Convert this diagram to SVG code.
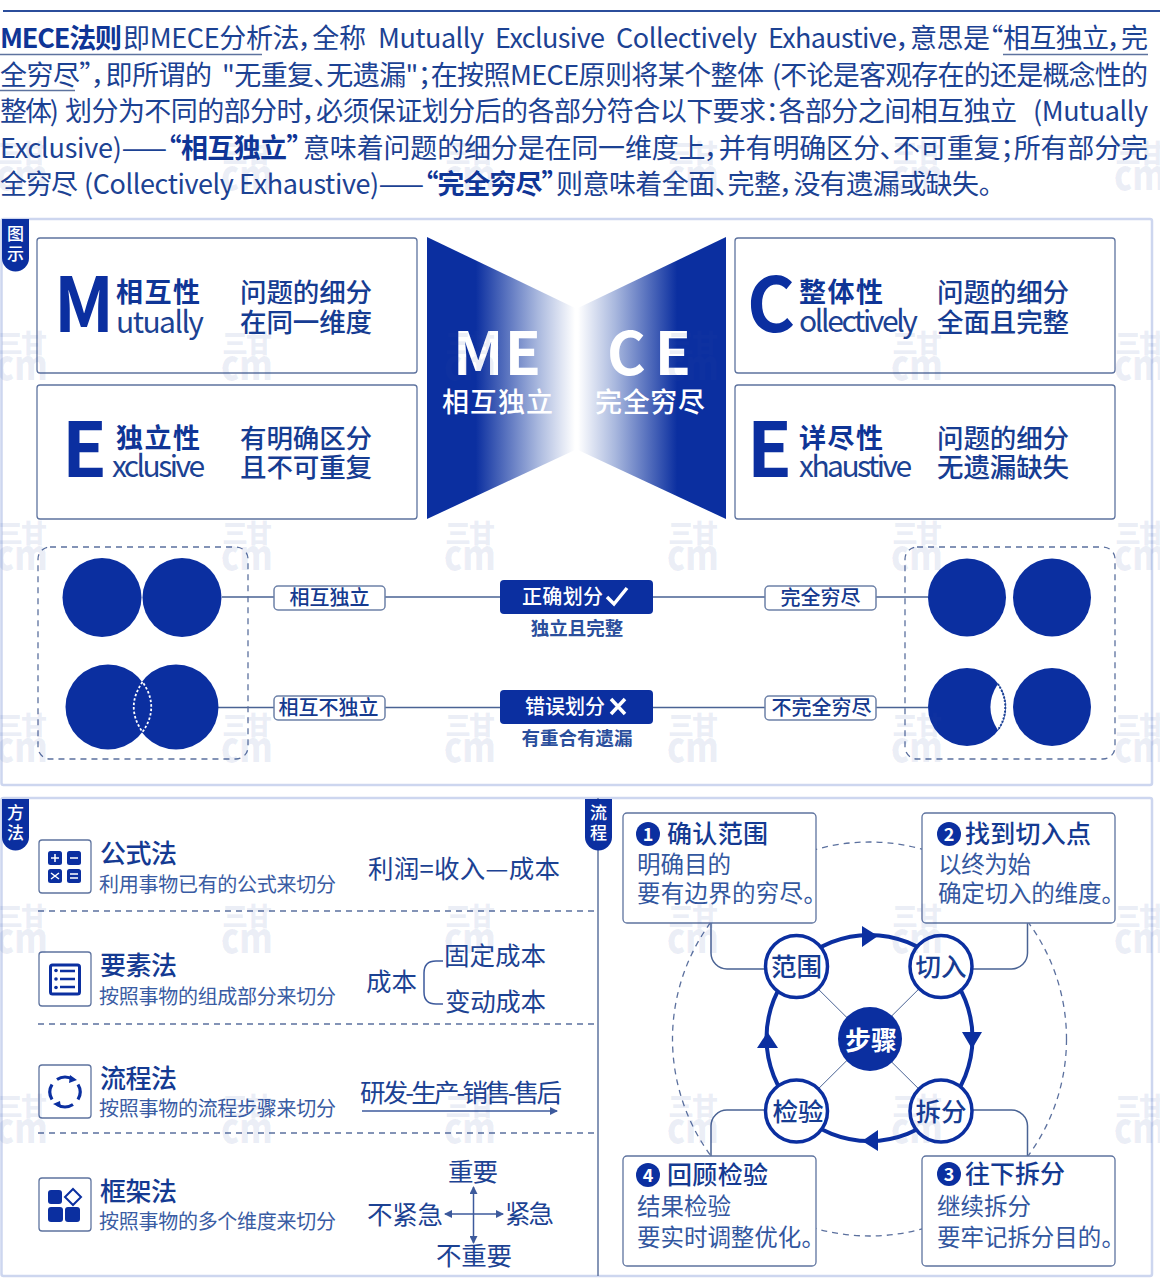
<svg xmlns="http://www.w3.org/2000/svg" xmlns:xlink="http://www.w3.org/1999/xlink" width="1160" height="1286" viewBox="0 0 1160 1286">
<style>
text{font-family:"Noto Sans CJK SC","Noto Sans",sans-serif;fill:#1c4293;font-feature-settings:"palt";}
.b{font-size:27px;font-weight:400}
.bb{font-size:27px;font-weight:700;fill:#0f3596}
.st{font-size:27px;font-weight:700;fill:#0f3596}
.en{font-size:30px;font-weight:400}
.d{font-size:26.5px;font-weight:500;fill:#163c92}
.big{font-size:75px;font-weight:700;fill:#0b2fa0}
.w{fill:#fff}
.lb{font-size:20px;font-weight:500;fill:#153a8f;text-anchor:middle}
.cap{font-size:18.5px;font-weight:700;fill:#2b4f9d;text-anchor:middle}
.tab{font-size:17px;font-weight:500;fill:#fff;text-anchor:middle}
.mt{font-size:26px;font-weight:500;fill:#143a92}
.ms{font-size:20px;font-weight:400;fill:#3a5ca3}
.mr{font-size:25.5px;font-weight:400;fill:#1c4293}
.pt{font-size:25px;font-weight:500;fill:#143a92}
.pb{font-size:23.5px;font-weight:400;fill:#33579f}
.nd{font-size:25.5px;font-weight:500;fill:#163c92;text-anchor:middle}
.num{font-size:18px;font-weight:700;fill:#fff;text-anchor:middle}
.box{fill:#fff;stroke:#5e739f;stroke-width:1.3}
.panel{fill:none;stroke:#cdd6ef;stroke-width:2.5}
.lab{fill:#fff;stroke:#6d81a8;stroke-width:1.5}
.blue{fill:#0b2fa0}
.line{fill:none;stroke:#4a6394;stroke-width:1.5}
.dash{fill:none;stroke:#5b709e;stroke-width:1.3;stroke-dasharray:6 5}
.ico{fill:#fff;stroke:#5e739f;stroke-width:1.3}
.wm{fill:#2c4ca8;fill-opacity:.09;font-weight:900}
</style>
<defs>
<linearGradient id="gl" x1="0" x2="1" y1="0" y2="0"><stop offset="0" stop-color="#0b2fa0"/><stop offset=".33" stop-color="#0b2fa0"/><stop offset=".75" stop-color="#a9b8de"/><stop offset="1" stop-color="#fff"/></linearGradient>
<linearGradient id="gr" x1="1" x2="0" y1="0" y2="0"><stop offset="0" stop-color="#0b2fa0"/><stop offset=".33" stop-color="#0b2fa0"/><stop offset=".75" stop-color="#a9b8de"/><stop offset="1" stop-color="#fff"/></linearGradient>
<marker id="ah" viewBox="0 0 8 8" refX="7" refY="4" markerWidth="8" markerHeight="8" markerUnits="userSpaceOnUse" orient="auto-start-reverse"><path d="M0 0L8 4L0 8Z" fill="#3d5a9c"/></marker>
<g id="logo"><text class="wm" x="0" y="23" font-size="26" textLength="50">三甘</text><text class="wm" x="-1" y="50" font-size="40" textLength="52" lengthAdjust="spacingAndGlyphs">cm</text></g>
</defs>
<rect width="1160" height="1286" fill="#fff"/>
<line x1="3" y1="11" x2="1160" y2="11" stroke="#2b4d9b" stroke-width="2"/>
<g id="intro">
<path d="M0 54.500H262M1003 54.500H1148M0 90.500H75" stroke="#5e739f" stroke-width="1.300" fill="none"/>
<text class="bb" x="0" y="48" textLength="122">MECE法则</text>
<text class="b" x="123" y="48" textLength="243">即MECE分析法，全称</text>
<text class="b" x="378" y="48" textLength="106">Mutually</text>
<text class="b" x="495" y="48" textLength="110">Exclusive</text>
<text class="b" x="616" y="48" textLength="141">Collectively</text>
<text class="b" x="768" y="48" textLength="129">Exhaustive</text>
<text class="b" x="897" y="48" textLength="106">，意思是“</text>
<text class="b" x="1003" y="48" textLength="145">相互独立，完</text>
<text class="b" x="0" y="85" textLength="212">全穷尽”，即所谓的</text>
<text class="b" x="222" y="85" textLength="542">"无重复、无遗漏"；在按照MECE原则将某个整体</text>
<text class="b" x="772" y="85" textLength="376">(不论是客观存在的还是概念性的</text>
<text class="b" x="0" y="121" textLength="59">整体)</text>
<text class="b" x="65" y="121" textLength="952">划分为不同的部分时，必须保证划分后的各部分符合以下要求：各部分之间相互独立</text>
<text class="b" x="1033" y="121" textLength="115">(Mutually</text>
<text class="b" x="0" y="158" textLength="167">Exclusive)——</text>
<text class="bb" x="168" y="158" textLength="132">“相互独立”</text>
<text class="b" x="303" y="158" textLength="845">意味着问题的细分是在同一维度上，并有明确区分、不可重复；所有部分完</text>
<text class="b" x="0" y="194" textLength="78">全穷尽</text>
<text class="b" x="84" y="194" textLength="340">(Collectively Exhaustive)——</text>
<text class="bb" x="425" y="194" textLength="130">“完全穷尽”</text>
<text class="b" x="556" y="194" textLength="436">则意味着全面、完整，没有遗漏或缺失。</text>
</g>
<g id="panel-diagram">
<rect class="panel" x="1.500" y="219" width="1150.500" height="566" rx="2"/>
<path class="blue" d="M2 219H29V258a13.500 13.500 0 0 1-27 0Z"/>
<text class="tab" x="15.500" y="240">图</text><text class="tab" x="15.500" y="260">示</text>
</g>
<g id="node-m"><rect class="box" x="37" y="238" width="380" height="135" rx="3"/>
<text class="big" x="54" y="332" textLength="60" lengthAdjust="spacingAndGlyphs">M</text>
<text class="st" x="116" y="302" textLength="84">相互性</text>
<text class="en" x="116" y="333" textLength="88">utually</text>
<text class="d" x="240" y="302" textLength="132">问题的细分</text>
<text class="d" x="240" y="332" textLength="132">在同一维度</text></g>
<g id="node-e1"><rect class="box" x="37" y="385" width="380" height="134" rx="3"/>
<text class="big" x="62" y="477" textLength="45" lengthAdjust="spacingAndGlyphs">E</text>
<text class="st" x="116" y="448" textLength="84">独立性</text>
<text class="en" x="112" y="477" textLength="93">xclusive</text>
<text class="d" x="240" y="448" textLength="132">有明确区分</text>
<text class="d" x="240" y="477" textLength="132">且不可重复</text></g>
<g id="node-c"><rect class="box" x="735" y="238" width="380" height="135" rx="3"/>
<text class="big" x="747" y="332" textLength="48" lengthAdjust="spacingAndGlyphs">C</text>
<text class="st" x="799" y="302" textLength="84">整体性</text>
<text class="en" x="799" y="332" textLength="119">ollectively</text>
<text class="d" x="937" y="302" textLength="132">问题的细分</text>
<text class="d" x="937" y="332" textLength="132">全面且完整</text></g>
<g id="node-e2"><rect class="box" x="735" y="385" width="380" height="134" rx="3"/>
<text class="big" x="747" y="477" textLength="45" lengthAdjust="spacingAndGlyphs">E</text>
<text class="st" x="799" y="448" textLength="84">详尽性</text>
<text class="en" x="799" y="477" textLength="113">xhaustive</text>
<text class="d" x="937" y="448" textLength="132">问题的细分</text>
<text class="d" x="937" y="477" textLength="132">无遗漏缺失</text></g>
<g id="node-me"><path d="M427 237L575 308V450L427 519Z" fill="url(#gl)"/>
<text x="453" y="375" font-size="59" font-weight="700" class="w" textLength="88">ME</text>
<text x="442" y="412" font-size="27" font-weight="500" class="w" textLength="111">相互独立</text></g>
<g id="node-ce"><path d="M726 237L578 308V450L726 519Z" fill="url(#gr)"/>
<text x="607" y="375" font-size="59" font-weight="700" class="w" textLength="84">CE</text>
<text x="595" y="412" font-size="27" font-weight="500" class="w" textLength="110">完全穷尽</text></g>
<g id="connectors">
<path class="line" d="M222 597H274M385 597H500M653 597H765M876 597H928M218 707.500H274M385 707.500H500M653 707.500H765M876 707.500H928"/>
<path class="line" d="M711 923V953a16 16 0 0 0 16 16H766M1027.500 923V953a16 16 0 0 1-16 16H972M711 1156V1126a16 16 0 0 1 16-16H766M1027.500 1156V1126a16 16 0 0 0-16-16H972"/>
<circle cx="869.500" cy="1039" r="197" class="dash" stroke-width="1"/>
<path d="M796 967L941 1111M941 967L796 1111" stroke="#4a6394" stroke-width="1" fill="none"/>
<circle cx="869.500" cy="1038" r="103" fill="none" stroke="#0b2fa0" stroke-width="4"/>
<path class="blue" d="M862 926L878 936L862 947ZM962 1032H982L972 1049ZM878 1130V1151L862 1141ZM757 1048H778L767.500 1032Z"/>
</g>
<g id="venn-left"><rect class="dash" x="38" y="547" width="210" height="212" rx="12"/>
<circle class="blue" cx="102" cy="597.500" r="39.500"/><circle class="blue" cx="182" cy="597.500" r="39.500"/>
<circle class="blue" cx="108" cy="707" r="42.500"/><circle class="blue" cx="176" cy="707" r="42.500"/>
<path d="M142.500 682Q125 707 142.500 732Q160 707 142.500 682Z" fill="none" stroke="#fff" stroke-width="1.800" stroke-dasharray="2.500 2"/></g>
<g id="venn-right"><rect class="dash" x="905" y="547" width="210" height="212" rx="12"/>
<circle class="blue" cx="967" cy="597.500" r="39"/><circle class="blue" cx="1052" cy="597.500" r="39"/>
<circle class="blue" cx="967" cy="707" r="39"/><circle class="blue" cx="1052" cy="707" r="39"/>
<path d="M997.800 684A39 39 0 0 1 997.800 730Q983 707 997.800 684Z" fill="#fff"/>
<path d="M997.800 684A39 39 0 0 1 997.800 730" fill="none" stroke="#1c4293" stroke-width="2" stroke-dasharray="2 1.500"/></g>
<g id="label-1"><rect class="lab" x="274" y="586" width="111" height="24" rx="4"/><text class="lb" x="329.500" y="605">相互独立</text></g>
<g id="label-2"><rect class="lab" x="274" y="696" width="111" height="24" rx="4"/><text class="lb" x="328.500" y="715">相互不独立</text></g>
<g id="label-3"><rect class="lab" x="765" y="586" width="111" height="24" rx="4"/><text class="lb" x="820.500" y="605">完全穷尽</text></g>
<g id="label-4"><rect class="lab" x="765" y="696" width="111" height="24" rx="4"/><text class="lb" x="821.500" y="715">不完全穷尽</text></g>
<g id="node-right"><rect class="blue" x="500" y="580" width="153" height="34" rx="4"/>
<text x="522" y="604" font-size="20" font-weight="500" class="w" textLength="81">正确划分</text>
<path d="M607 597L614 604L627 588" fill="none" stroke="#fff" stroke-width="3.500"/>
<text class="cap" x="577" y="635">独立且完整</text></g>
<g id="node-wrong"><rect class="blue" x="500" y="690" width="153" height="34" rx="4"/>
<text x="525" y="714" font-size="20" font-weight="500" class="w" textLength="80">错误划分</text>
<path d="M611 699L625 714M625 699L611 714" fill="none" stroke="#fff" stroke-width="3.500"/>
<text class="cap" x="577" y="745">有重合有遗漏</text></g>
<g id="panel-methods">
<rect class="panel" x="1.500" y="798" width="1150.500" height="478" rx="2"/>
<line x1="598" y1="798" x2="598" y2="1276" stroke="#5e739f" stroke-width="1.500"/>
<path class="blue" d="M2 799H29V837a13.500 13.500 0 0 1-27 0Z"/>
<text class="tab" x="15.500" y="819">方</text><text class="tab" x="15.500" y="839">法</text>
<path class="blue" d="M585 799H612V837a13.500 13.500 0 0 1-27 0Z"/>
<text class="tab" x="598.500" y="819">流</text><text class="tab" x="598.500" y="839">程</text>
<path class="dash" d="M38 911H595M38 1024H595M38 1133H595"/>
</g>
<g id="method-1"><rect class="ico" x="39" y="840" width="52" height="53" rx="3"/>
<rect class="blue" x="48" y="851" width="14" height="14" rx="2.500"/><rect class="blue" x="67" y="851" width="14" height="14" rx="2.500"/><rect class="blue" x="48" y="869" width="14" height="14" rx="2.500"/><rect class="blue" x="67" y="869" width="14" height="14" rx="2.500"/>
<path d="M51 858H59M55 854V862M70 858H78M51 873L59 879M59 873L51 879M70 874H78M70 878H78" stroke="#fff" stroke-width="1.500" fill="none"/>
<text class="mt" x="100" y="863" textLength="77">公式法</text><text class="ms" x="99" y="892" textLength="237">利用事物已有的公式来切分</text>
<text class="mr" x="368" y="878" textLength="192">利润=收入—成本</text></g>
<g id="method-2"><rect class="ico" x="39" y="952" width="52" height="54" rx="3"/>
<rect x="50.500" y="965" width="29" height="29" fill="none" stroke="#0b2fa0" stroke-width="3" rx="2"/>
<path d="M60 971H75M60 979H75M60 987H75" stroke="#0b2fa0" stroke-width="2.500" fill="none"/>
<circle class="blue" cx="56" cy="970.500" r="1.800"/><circle class="blue" cx="56" cy="979" r="1.800"/><circle class="blue" cx="56" cy="987.500" r="1.800"/>
<text class="mt" x="100" y="975" textLength="77">要素法</text><text class="ms" x="99" y="1004" textLength="237">按照事物的组成部分来切分</text>
<text class="mr" x="366" y="991" textLength="51">成本</text>
<path d="M443 961H436Q424 961 424 973V992Q424 1004 436 1004H443" fill="none" stroke="#3d5a9c" stroke-width="1.500"/>
<text class="mr" x="444" y="965" textLength="102">固定成本</text><text class="mr" x="445" y="1011" textLength="101">变动成本</text></g>
<g id="method-3"><rect class="ico" x="39" y="1065" width="52" height="53" rx="3"/>
<path d="M57 1079.500A14.500 14.500 0 0 1 73 1079.500M78 1084.500A14.500 14.500 0 0 1 78 1099.500M73 1104.500A14.500 14.500 0 0 1 57 1104.500M52 1099.500A14.500 14.500 0 0 1 52 1084.500" fill="none" stroke="#0b2fa0" stroke-width="3.200"/>
<path class="blue" d="M70 1075L77 1080L69 1083ZM60 1101L53 1104L61 1108Z"/>
<text class="mt" x="100" y="1088" textLength="77">流程法</text><text class="ms" x="99" y="1116" textLength="237">按照事物的流程步骤来切分</text>
<text class="mr" x="360" y="1102" textLength="202">研发-生产-销售-售后</text>
<line x1="362" y1="1111" x2="557" y2="1111" stroke="#3d5a9c" stroke-width="1.500" marker-end="url(#ah)"/></g>
<g id="method-4"><rect class="ico" x="39" y="1178" width="52" height="53" rx="3"/>
<rect class="blue" x="48" y="1190" width="14" height="14" rx="3"/>
<path d="M73 1189L81 1197L73 1205L65 1197Z" fill="none" stroke="#0b2fa0" stroke-width="2"/>
<rect class="blue" x="48" y="1207" width="15" height="15" rx="3"/><rect class="blue" x="65" y="1207" width="15" height="15" rx="3"/>
<text class="mt" x="100" y="1201" textLength="77">框架法</text><text class="ms" x="99" y="1229" textLength="237">按照事物的多个维度来切分</text>
<text class="mr" x="448" y="1181" textLength="50">重要</text><text class="mr" x="367" y="1224" textLength="76">不紧急</text><text class="mr" x="505" y="1223" textLength="49">紧急</text><text class="mr" x="436" y="1265" textLength="76">不重要</text>
<path d="M473.500 1243V1187" stroke="#3d5a9c" stroke-width="1.500" fill="none" marker-start="url(#ah)" marker-end="url(#ah)"/>
<path d="M445 1214H503" stroke="#3d5a9c" stroke-width="1.500" fill="none" marker-start="url(#ah)" marker-end="url(#ah)"/></g>
<g id="step-1"><rect class="box" x="623" y="813" width="193" height="110" rx="4"/><circle class="blue" cx="648" cy="834" r="12"/><text class="num" x="648" y="840.500">1</text>
<text class="pt" x="667" y="843" textLength="101">确认范围</text><text class="pb" x="637" y="873" textLength="94">明确目的</text><text class="pb" x="637" y="902" textLength="178">要有边界的穷尽。</text></g>
<g id="step-2"><rect class="box" x="922" y="813" width="193" height="110" rx="4"/><circle class="blue" cx="949" cy="834" r="12"/><text class="num" x="949" y="840.500">2</text>
<text class="pt" x="965" y="843" textLength="126">找到切入点</text><text class="pb" x="938" y="873" textLength="93">以终为始</text><text class="pb" x="938" y="902" textLength="175">确定切入的维度。</text></g>
<g id="step-3"><rect class="box" x="922" y="1156" width="193" height="110" rx="4"/><circle class="blue" cx="949" cy="1174" r="12"/><text class="num" x="949" y="1180.500">3</text>
<text class="pt" x="965" y="1183" textLength="100">往下拆分</text><text class="pb" x="937" y="1215" textLength="94">继续拆分</text><text class="pb" x="937" y="1246" textLength="176">要牢记拆分目的。</text></g>
<g id="step-4"><rect class="box" x="623" y="1156" width="193" height="110" rx="4"/><circle class="blue" cx="648" cy="1175" r="12"/><text class="num" x="648" y="1181.500">4</text>
<text class="pt" x="667" y="1184" textLength="101">回顾检验</text><text class="pb" x="637" y="1215" textLength="94">结果检验</text><text class="pb" x="637" y="1246" textLength="176">要实时调整优化。</text></g>
<g id="node-fanwei"><circle cx="796.500" cy="966.500" r="31" fill="#fff" stroke="#0b2fa0" stroke-width="3.500"/><text class="nd" x="796.500" y="976">范围</text></g>
<g id="node-qieru"><circle cx="941" cy="966.500" r="31" fill="#fff" stroke="#0b2fa0" stroke-width="3.500"/><text class="nd" x="941" y="976">切入</text></g>
<g id="node-jianyan"><circle cx="796.500" cy="1111" r="31" fill="#fff" stroke="#0b2fa0" stroke-width="3.500"/><text class="nd" x="798" y="1121">检验</text></g>
<g id="node-chaifen"><circle cx="941" cy="1111" r="31" fill="#fff" stroke="#0b2fa0" stroke-width="3.500"/><text class="nd" x="941" y="1121">拆分</text></g>
<g id="node-buzhou"><circle class="blue" cx="870" cy="1039" r="32"/><text x="871" y="1050" font-size="26" font-weight="700" class="w" text-anchor="middle">步骤</text></g>
<g id="watermarks">
<use xlink:href="#logo" x="-3" y="140"/><use xlink:href="#logo" x="222" y="140"/><use xlink:href="#logo" x="445" y="140"/><use xlink:href="#logo" x="668" y="140"/><use xlink:href="#logo" x="892" y="140"/><use xlink:href="#logo" x="1115" y="140"/>
<use xlink:href="#logo" x="-3" y="330"/><use xlink:href="#logo" x="222" y="330"/><use xlink:href="#logo" x="445" y="330"/><use xlink:href="#logo" x="668" y="330"/><use xlink:href="#logo" x="892" y="330"/><use xlink:href="#logo" x="1115" y="330"/>
<use xlink:href="#logo" x="-3" y="520"/><use xlink:href="#logo" x="222" y="520"/><use xlink:href="#logo" x="445" y="520"/><use xlink:href="#logo" x="668" y="520"/><use xlink:href="#logo" x="892" y="520"/><use xlink:href="#logo" x="1115" y="520"/>
<use xlink:href="#logo" x="-3" y="712"/><use xlink:href="#logo" x="222" y="712"/><use xlink:href="#logo" x="445" y="712"/><use xlink:href="#logo" x="668" y="712"/><use xlink:href="#logo" x="892" y="712"/><use xlink:href="#logo" x="1115" y="712"/>
<use xlink:href="#logo" x="-3" y="903"/><use xlink:href="#logo" x="222" y="903"/><use xlink:href="#logo" x="445" y="903"/><use xlink:href="#logo" x="668" y="903"/><use xlink:href="#logo" x="892" y="903"/><use xlink:href="#logo" x="1115" y="903"/>
<use xlink:href="#logo" x="-3" y="1093"/><use xlink:href="#logo" x="222" y="1093"/><use xlink:href="#logo" x="445" y="1093"/><use xlink:href="#logo" x="668" y="1093"/><use xlink:href="#logo" x="892" y="1093"/><use xlink:href="#logo" x="1115" y="1093"/>
</g>
</svg>
